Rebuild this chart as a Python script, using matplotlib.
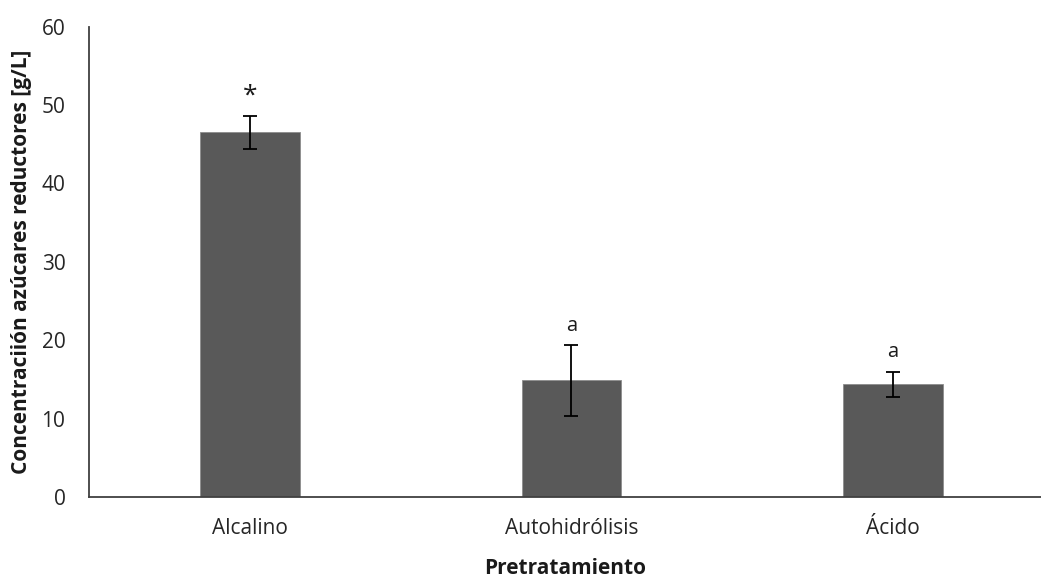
import matplotlib.pyplot as plt

# datos
categorias = ['Alcalino', 'Autohidrólisis', 'Ácido']
medias = [46.5, 14.9, 14.4]
errores = [2.1, 4.5, 1.6]
letras = ['*', 'a', 'a']

plt.rcParams['font.family'] = ['Open Sans', 'DejaVu Sans']

fig = plt.figure(figsize=(10.41, 5.77), dpi=100)
ax = fig.add_axes([0.0855, 0.138, 0.9145, 0.816])

x = range(len(categorias))
ax.bar(x, medias, width=0.31, color='#595959', edgecolor='#8c8c8c', linewidth=0.6, zorder=2)
ax.errorbar(x, medias, yerr=errores, fmt='none', ecolor='black', elinewidth=1.3,
            capsize=5, capthick=1.3, zorder=3)

for xi, m, e, l in zip(x, medias, errores, letras):
    off = 1.0 if l == '*' else 1.2
    ax.text(xi, m + e + off, l, ha='center', va='bottom',
            fontsize=19 if l == '*' else 14.5, color='#1a1a1a')

ax.set_xlim(-0.5, 2.46)
ax.set_ylim(0, 60)
ax.set_yticks(range(0, 61, 10))
ax.set_xticks(list(x))
ax.set_xticklabels(categorias)

for s in ['top', 'right']:
    ax.spines[s].set_visible(False)
ax.spines['left'].set_color('#404040')
ax.spines['bottom'].set_color('#404040')
ax.spines['left'].set_linewidth(1.3)
ax.spines['bottom'].set_linewidth(1.3)
ax.tick_params(axis='both', length=0, labelsize=15, colors='#262626')
ax.tick_params(axis='y', pad=17)
ax.tick_params(axis='x', pad=15)

ax.set_ylabel('Concentraciión azúcares reductores [g/L]', fontsize=15, fontweight='bold',
              color='#1a1a1a')
ax.set_xlabel('Pretratamiento', fontsize=15, fontweight='bold', color='#1a1a1a')
ax.yaxis.set_label_coords(-0.060, 0.5)
ax.xaxis.set_label_coords(0.5, -0.128)

fig.savefig('out.png', dpi=100)
